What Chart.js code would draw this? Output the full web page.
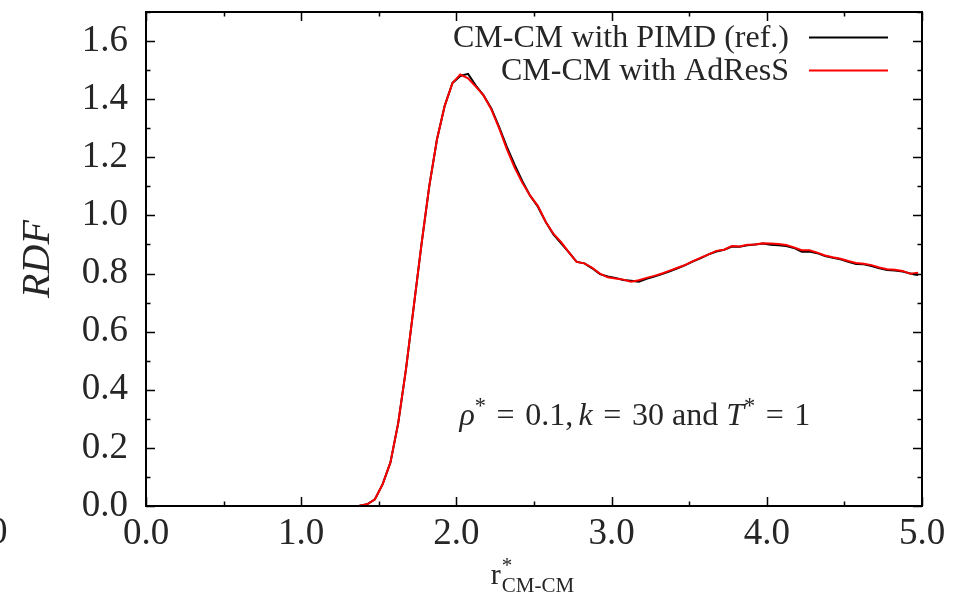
<!DOCTYPE html>
<html><head><meta charset="utf-8">
<script src="https://cdn.jsdelivr.net/npm/chart.js@4/dist/chart.umd.min.js"></script>
<style>html,body{margin:0;padding:0;background:#fff;} canvas{display:block;}</style>
</head><body>
<canvas id="c" width="965" height="597"></canvas>
<script>
// r* (CM-CM distance), bin centres
const rValues = [
 0.025,0.075,0.125,0.175,0.225,0.275,0.325,0.375,0.425,0.475,
 0.525,0.575,0.625,0.675,0.725,0.775,0.825,0.875,0.925,0.975,
 1.025,1.075,1.125,1.175,1.225,1.275,1.325,1.375,1.425,1.475,
 1.525,1.575,1.625,1.675,1.725,1.775,1.825,1.875,1.925,1.975,
 2.025,2.075,2.125,2.175,2.225,2.275,2.325,2.375,2.425,2.475,
 2.525,2.575,2.625,2.675,2.725,2.775,2.825,2.875,2.925,2.975,
 3.025,3.075,3.125,3.175,3.225,3.275,3.325,3.375,3.425,3.475,
 3.525,3.575,3.625,3.675,3.725,3.775,3.825,3.875,3.925,3.975,
 4.025,4.075,4.125,4.175,4.225,4.275,4.325,4.375,4.425,4.475,
 4.525,4.575,4.625,4.675,4.725,4.775,4.825,4.875,4.925,4.975
];
// RDF, PIMD reference (black)
const pimdValues = [
 0,0,0,0,0,0,0,0,0,0,
 0,0,0,0,0,0,0,0,0,0,
 0,0,0,0,0,0,0,0.001,0.006,0.023,
 0.075,0.150,0.285,0.470,0.685,0.900,1.100,1.262,1.378,1.456,
 1.480,1.487,1.447,1.413,1.368,1.305,1.236,1.175,1.118,1.068,
 1.030,0.978,0.935,0.904,0.873,0.840,0.835,0.818,0.798,0.790,
 0.785,0.778,0.775,0.772,0.782,0.790,0.798,0.808,0.818,0.829,
 0.842,0.853,0.866,0.876,0.882,0.893,0.892,0.897,0.900,0.903,
 0.899,0.897,0.895,0.888,0.875,0.876,0.870,0.860,0.854,0.849,
 0.840,0.833,0.832,0.826,0.818,0.812,0.810,0.807,0.800,0.795
];
// RDF, AdResS (red)
const adressValues = [
 0,0,0,0,0,0,0,0,0,0,
 0,0,0,0,0,0,0,0,0,0,
 0,0,0,0,0,0,0,0.001,0.006,0.023,
 0.075,0.150,0.285,0.470,0.685,0.900,1.100,1.262,1.378,1.456,
 1.485,1.472,1.443,1.413,1.365,1.300,1.228,1.165,1.112,1.068,
 1.033,0.978,0.937,0.908,0.873,0.840,0.835,0.820,0.800,0.787,
 0.783,0.779,0.772,0.777,0.785,0.792,0.800,0.810,0.820,0.830,
 0.843,0.855,0.866,0.878,0.882,0.895,0.893,0.899,0.900,0.904,
 0.903,0.902,0.898,0.890,0.880,0.880,0.872,0.862,0.856,0.851,
 0.843,0.836,0.834,0.829,0.821,0.815,0.813,0.809,0.799,0.803
];
const seriesLabels = ['CM-CM with PIMD (ref.)', 'CM-CM with AdResS'];
const seriesColors = ['#000000', '#ff0000'];
const xTickValues = [0, 1, 2, 3, 4, 5];
const xTickLabels = ['0.0', '1.0', '2.0', '3.0', '4.0', '5.0'];
const yTickValues = [0, 0.2, 0.4, 0.6, 0.8, 1.0, 1.2, 1.4, 1.6];
const yTickLabels = ['0.0', '0.2', '0.4', '0.6', '0.8', '1.0', '1.2', '1.4', '1.6'];

const SERIF = '"Liberation Serif", "Times New Roman", serif';
const TXT = '#262626';

function toPts(ys){ return rValues.map((x,i)=>({x:x, y:ys[i]})); }
function findLabel(vals, labels, v){
  for (let i=0;i<vals.length;i++){ if (Math.abs(vals[i]-v)<1e-6) return labels[i]; }
  return '';
}

const framePlugin = {
  id: 'frame',
  afterDraw(chart){
    const ctx = chart.ctx, a = chart.chartArea;
    const xs = chart.scales.x, ys = chart.scales.y;
    ctx.save();
    ctx.strokeStyle = '#000';
    ctx.lineWidth = 1.5;
    // ticks on all four sides, pointing inward
    xs.ticks.forEach(t => {
      const px = Math.round(xs.getPixelForValue(t.value)) + 0.5;
      const major = findLabel(xTickValues, xTickLabels, t.value) !== '';
      const L = major ? 9 : 4.5;
      ctx.beginPath();
      ctx.moveTo(px, a.bottom); ctx.lineTo(px, a.bottom - L);
      ctx.moveTo(px, a.top); ctx.lineTo(px, a.top + L);
      ctx.stroke();
    });
    ys.ticks.forEach(t => {
      const py = Math.round(ys.getPixelForValue(t.value)) + 0.5;
      const major = findLabel(yTickValues, yTickLabels, t.value) !== '';
      const L = major ? 9 : 4.5;
      ctx.beginPath();
      ctx.moveTo(a.left, py); ctx.lineTo(a.left + L, py);
      ctx.moveTo(a.right, py); ctx.lineTo(a.right - L, py);
      ctx.stroke();
    });
    // frame
    ctx.lineWidth = 2;
    ctx.strokeRect(a.left, a.top, a.right - a.left, a.bottom - a.top);

    // legend (text left of the line sample, right aligned)
    ctx.font = '32px ' + SERIF;
    ctx.textAlign = 'right';
    ctx.textBaseline = 'alphabetic';
    chart.data.datasets.forEach((ds, i) => {
      const base = a.top + 35 + 33 * i;
      ctx.fillStyle = TXT;
      ctx.fillText(ds.label, a.right - 133, base);
      ctx.strokeStyle = ds.borderColor;
      ctx.lineWidth = 2;
      ctx.beginPath();
      ctx.moveTo(a.right - 113, base - 9.5);
      ctx.lineTo(a.right - 34, base - 9.5);
      ctx.stroke();
    });

    // annotation  rho* = 0.1, k = 30 and T* = 1
    const fs = 32;
    const pieces = [
      {t:'\u03C1', f:'italic ' + fs + 'px ' + SERIF, dy:0},
      {t:'*', f:(fs*0.7) + 'px ' + SERIF, dy:-12},
      {gap:0.33},
      {t:'=', f:fs + 'px ' + SERIF, dy:0},
      {gap:0.33},
      {t:'0.1,', f:fs + 'px ' + SERIF, dy:0},
      {gap:0.17},
      {t:'k', f:'italic ' + fs + 'px ' + SERIF, dy:0},
      {gap:0.33},
      {t:'=', f:fs + 'px ' + SERIF, dy:0},
      {gap:0.33},
      {t:'30 and ', f:fs + 'px ' + SERIF, dy:0},
      {t:'T', f:'italic ' + fs + 'px ' + SERIF, dy:0},
      {t:'*', f:(fs*0.7) + 'px ' + SERIF, dy:-12},
      {gap:0.33},
      {t:'=', f:fs + 'px ' + SERIF, dy:0},
      {gap:0.33},
      {t:'1', f:fs + 'px ' + SERIF, dy:0}
    ];
    let total = 0;
    pieces.forEach(p => { if (p.gap) { p.w = p.gap*fs; } else { ctx.font = p.f; p.w = ctx.measureText(p.t).width; } total += p.w; });
    let x = xs.getPixelForValue(3.15) - total/2;
    const base = ys.getPixelForValue(0.279);
    ctx.textAlign = 'left';
    ctx.fillStyle = TXT;
    pieces.forEach(p => { if (!p.gap) { ctx.font = p.f; ctx.fillText(p.t, x, base + p.dy); } x += p.w; });

    // x axis title r*_{CM-CM}
    const cx = (a.left + a.right)/2;
    ctx.font = '30px ' + SERIF;
    const rw = ctx.measureText('r').width;
    ctx.font = '21px ' + SERIF;
    const sw = ctx.measureText('CM-CM').width;
    const x0 = cx - (rw + sw)/2 - 2;
    ctx.font = '30px ' + SERIF;
    ctx.fillText('r', x0, 584);
    ctx.font = '21px ' + SERIF;
    ctx.fillText('*', x0 + rw + 1, 572);
    ctx.fillText('CM-CM', x0 + rw + 1, 592);

    // clipped label from neighbouring panel at far left
    ctx.font = '37px ' + SERIF;
    ctx.fillText('0', -11, 543);
    ctx.restore();
  }
};

new Chart(document.getElementById('c'), {
  type: 'line',
  data: {
    datasets: [
      {label: seriesLabels[0], data: toPts(pimdValues), borderColor: seriesColors[0], backgroundColor: seriesColors[0], borderWidth: 2, pointRadius: 0, tension: 0, fill: false, order: 2},
      {label: seriesLabels[1], data: toPts(adressValues), borderColor: seriesColors[1], backgroundColor: seriesColors[1], borderWidth: 2, pointRadius: 0, tension: 0, fill: false, order: 1}
    ]
  },
  options: {
    responsive: false,
    animation: false,
    devicePixelRatio: 1,
    layout: {padding: {top: 12, right: 43, left: 0, bottom: 0}},
    plugins: {legend: {display: false}, tooltip: {enabled: false}},
    scales: {
      x: {
        type: 'linear', min: 0, max: 5,
        grid: {display: true, drawOnChartArea: false, drawTicks: false},
        border: {display: false},
        ticks: {
          stepSize: 0.5, autoSkip: false, maxRotation: 0, padding: 6,
          color: TXT, font: {family: SERIF, size: 37},
          callback: v => findLabel(xTickValues, xTickLabels, v)
        },
        afterFit: s => { s.height = 91; s.paddingLeft = 0; s.paddingRight = 0; }
      },
      y: {
        type: 'linear', min: 0, max: 1.7,
        grid: {display: true, drawOnChartArea: false, drawTicks: false},
        border: {display: false},
        ticks: {
          stepSize: 0.1, autoSkip: false, padding: 18,
          color: TXT, font: {family: SERIF, size: 37},
          callback: v => findLabel(yTickValues, yTickLabels, v)
        },
        title: {display: true, text: 'RDF', color: TXT, font: {family: SERIF, size: 40, style: 'italic'}, padding: {top: 14, bottom: 0}},
        afterFit: s => { s.width = 146; s.paddingTop = 0; s.paddingBottom = 0; }
      }
    }
  },
  plugins: [framePlugin]
});
</script>
</body></html>
